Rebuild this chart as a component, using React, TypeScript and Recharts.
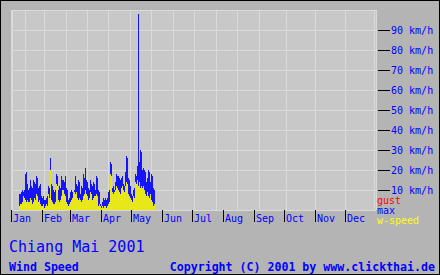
import React from 'react';
import { BarChart, Bar, XAxis, YAxis, CartesianGrid } from 'recharts';

// day of year (0 = Jan 1) of the first reading
const firstDay = 8;

// daily maximum wind speed, km/h
const maxSpeed = [
  8, 8, 9, 10, 9, 10, 18, 19, 13, 10, 11, 15, 12, 11, 15, 14, 13, 17, 16, 11,
  12, 13, 7, 6, 7, 5, 5, 6, 7, 12, 11, 26, 13, 12, 10, 9, 10, 18, 17, 10,
  12, 11, 17, 15, 15, 14, 17, 11, 10, 5, 6, 9, 10, 9, 8, 10, 17, 13, 12, 15,
  14, 8, 12, 11, 18, 16, 21, 15, 14, 11, 10, 15, 13, 12, 14, 13, 10, 17, 16, 10,
  9, 3, 2, 4, 6, 5, 6, 5, 6, 9, 10, 24, 23, 11, 12, 10, 14, 18, 17, 17,
  16, 15, 16, 17, 13, 12, 19, 27, 26, 16, 15, 12, 8, 7, 10, 11, 18, 17, 22, 98,
  24, 30, 29, 20, 21, 20, 19, 14, 16, 20, 19, 14, 18, 17, 11, 10,
];

// daily mean wind speed, km/h
const wSpeed = [
  2, 3, 3, 4, 7, 6, 5, 4, 5, 4, 4, 6, 5, 3, 4, 6, 5, 8, 7, 4,
  5, 3, 2, 2, 3, 1, 2, 3, 2, 8, 6, 20, 5, 4, 3, 3, 4, 13, 12, 5,
  4, 5, 7, 10, 10, 8, 7, 4, 3, 2, 3, 4, 5, 6, 8, 9, 8, 9, 6, 5,
  6, 5, 4, 5, 7, 8, 10, 8, 7, 5, 6, 9, 8, 5, 6, 7, 7, 8, 7, 2,
  3, 2, 1, 2, 1, 2, 2, 1, 2, 3, 4, 18, 17, 9, 8, 9, 10, 12, 11, 10,
  9, 8, 11, 12, 10, 9, 12, 14, 13, 8, 7, 6, 5, 4, 7, 6, 14, 13, 15, 12,
  14, 11, 12, 11, 12, 10, 8, 7, 9, 7, 6, 8, 5, 4, 2, 3,
];

const monthNames = ['Jan', 'Feb', 'Mar', 'Apr', 'May', 'Jun', 'Jul', 'Aug', 'Sep', 'Oct', 'Nov', 'Dec'];
const monthStarts = [0, 31, 59, 90, 120, 151, 181, 212, 243, 273, 304, 334, 365];
const speedTicks = [10, 20, 30, 40, 50, 60, 70, 80, 90];

const data = maxSpeed.map((m, i) => ({
  d: firstDay + i + 0.5,
  max: m,
  wspeed: wSpeed[i],
}));

const FONT = "'DejaVu Sans Mono', monospace";
const BLUE = '#0000ff';

const MonthTick = ({ x, payload }: any) => {
  const idx = monthStarts.indexOf(payload.value);
  if (idx < 0 || idx >= monthNames.length) return null;
  return (
    <g>
      <line x1={x} x2={x} y1={210} y2={222} stroke="#000" strokeWidth={1} />
      <text x={x + 2} y={222} fill={BLUE} fontSize={10} fontFamily={FONT}>
        {monthNames[idx]}
      </text>
    </g>
  );
};

const SpeedTick = ({ x, y, payload }: any) => (
  <g>
    <line x1={x} x2={x + 12} y1={y} y2={y} stroke="#000" strokeWidth={1} />
    <text x={x + 13} y={y + 4} fill={BLUE} fontSize={10} fontFamily={FONT}>
      {payload.value} km/h
    </text>
  </g>
);

export default function App() {
  return (
    <div style={{ position: 'fixed', left: 0, top: 0, width: 440, height: 275, background: '#b4b4b4' }}>
      <style>{'.wind rect, .wind line { shape-rendering: crispEdges; }'}</style>
      <BarChart
        className="wind"
        width={440}
        height={275}
        data={data}
        margin={{ top: 10, right: 1, left: 11, bottom: 35 }}
      >
        <CartesianGrid fill="#c8c8c8" stroke="#dadada" strokeWidth={1} />
        <XAxis
          xAxisId="max"
          dataKey="d"
          type="number"
          domain={[0, 365]}
          ticks={monthStarts}
          interval={0}
          axisLine={false}
          tickLine={false}
          tickSize={0}
          height={30}
          tick={<MonthTick />}
        />
        <XAxis xAxisId="w" dataKey="d" type="number" domain={[0, 365]} ticks={monthStarts} hide />
        <YAxis
          orientation="right"
          domain={[0, 100]}
          ticks={speedTicks}
          interval={0}
          width={63}
          axisLine={false}
          tickLine={false}
          tickSize={0}
          tick={<SpeedTick />}
        />
        <Bar xAxisId="max" dataKey="max" fill={BLUE} barSize={1} isAnimationActive={false} />
        <Bar xAxisId="w" dataKey="wspeed" fill="#ffff00" barSize={1} isAnimationActive={false} />
      </BarChart>
      <svg width={440} height={275} style={{ position: 'absolute', left: 0, top: 0, pointerEvents: 'none' }}>
        <text x={377} y={204} fill="#ff0000" fontSize={10} fontFamily={FONT}>gust</text>
        <text x={377} y={214} fill={BLUE} fontSize={10} fontFamily={FONT}>max</text>
        <text x={377} y={224} fill="#ffff00" fontSize={10} fontFamily={FONT}>w-speed</text>
        <text x={9} y={252} fill={BLUE} fontSize={15} fontFamily={FONT}>Chiang Mai 2001</text>
        <text x={9} y={271} fill={BLUE} fontSize={11.6} fontWeight="bold" fontFamily={FONT}>Wind Speed</text>
        <text x={435} y={271} textAnchor="end" fill={BLUE} fontSize={11.6} fontWeight="bold" fontFamily={FONT}>
          Copyright (C) 2001 by www.clickthai.de
        </text>
      </svg>
      <div style={{ position: 'absolute', inset: 0, border: '1px solid #000', pointerEvents: 'none' }} />
    </div>
  );
}
